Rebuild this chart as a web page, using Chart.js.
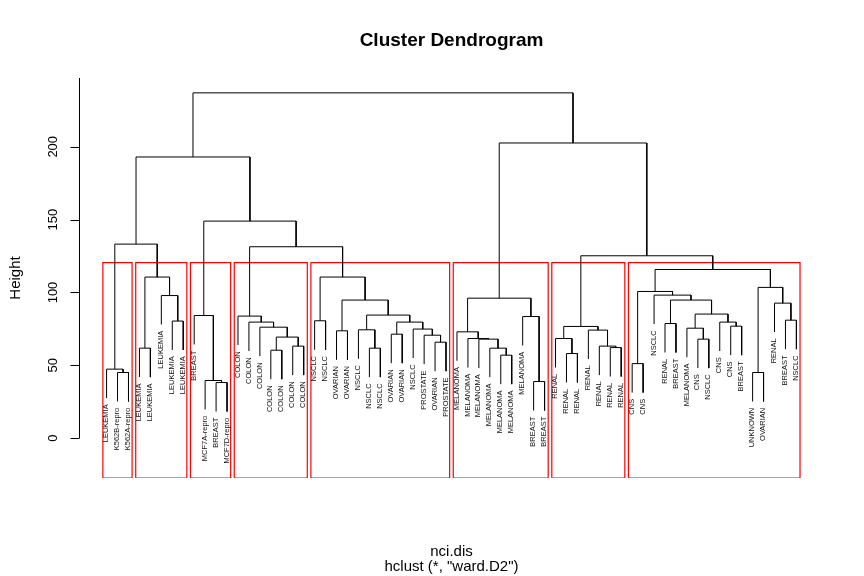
<!DOCTYPE html>
<html><head><meta charset="utf-8">
<script src="https://cdn.jsdelivr.net/npm/chart.js@4.4.1/dist/chart.umd.min.js"></script>
<style>html,body{margin:0;padding:0;background:#fff}#wrap{width:864px;height:576px;position:relative}</style>
</head><body><div id="wrap"><canvas id="c" width="864" height="576"></canvas></div>
<script>
// ---- data: leaves in dendrogram order ----
const leafLabels = ["LEUKEMIA","K562B-repro","K562A-repro","LEUKEMIA","LEUKEMIA","LEUKEMIA","LEUKEMIA","LEUKEMIA",
  "BREAST","MCF7A-repro","BREAST","MCF7D-repro",
  "COLON","COLON","COLON","COLON","COLON","COLON","COLON",
  "NSCLC","NSCLC","OVARIAN","OVARIAN","NSCLC","NSCLC","NSCLC","OVARIAN","OVARIAN","NSCLC","PROSTATE","OVARIAN","PROSTATE",
  "MELANOMA","MELANOMA","MELANOMA","MELANOMA","MELANOMA","MELANOMA","MELANOMA","BREAST","BREAST",
  "RENAL","RENAL","RENAL","RENAL","RENAL","RENAL","RENAL",
  "CNS","CNS","NSCLC","RENAL","BREAST","MELANOMA","CNS","NSCLC","CNS","CNS","BREAST","UNKNOWN","OVARIAN","RENAL","BREAST","NSCLC"];
// merges (R style): negative = leaf position, positive = earlier merge row
const mergeLeft  = [-2,-1,-4,-7,-6,3,2,-11,-10,-9,-16,-18,11,-15,-14,-13,-20,-22,-25,-24,-27,-31,-30,-29,21,20,18,17,16,10,7,
  -37,-36,-35,-34,-33,-40,-39,36,-43,-42,-47,-46,-45,41,-49,-52,-55,-54,-58,-57,49,47,-51,46,-60,-63,-62,56,55,45,39,31];
const mergeRight = [-3,1,-5,-8,4,5,6,-12,8,9,-17,-19,12,13,14,15,-21,-23,-26,19,-28,-32,22,23,24,25,26,27,28,29,30,
  -38,32,33,34,35,-41,37,38,-44,40,-48,42,43,44,-50,-53,-56,48,-59,50,51,52,53,54,-61,-64,57,58,59,60,61,62];
const mergeHeight = [45.1,47.4,61.8,80.4,97.9,110.6,133.2,38.2,39.6,84.2,60.4,63.2,69.4,76.2,79.7,83.8,80.6,73.7,61.8,74.4,71.4,65.9,70.7,74.9,79.7,84.5,94.8,110.6,131.4,149.0,193.0,
  57.0,61.8,68.0,68.4,73.0,38.9,83.5,96.1,58.1,68.4,62.2,63.2,74.2,76.7,51.2,78.7,68.0,75.5,76.9,79.7,85.2,94.8,98.2,100.7,45.1,81.0,92.7,103.5,115.8,125.2,202.6,237.0];
const yTickValues = [0,50,100,150,200];
const numClusters = 8;
const hangFraction = 0.1;

// ---- derived geometry (in data units) ----
const nLeaves = leafLabels.length;
const maxH = Math.max(...mergeHeight), minH = Math.min(...mergeHeight);
const hang = hangFraction * (maxH - minH);
const nodeX = [];
function childX(c){ return c < 0 ? -c : nodeX[c-1]; }
function childY(c, h){ return c < 0 ? h - hang : mergeHeight[c-1]; }
const leafBottom = new Array(nLeaves+1);
const datasets = [];
for (let i = 0; i < mergeHeight.length; i++) {
  const l = mergeLeft[i], r = mergeRight[i], h = mergeHeight[i];
  const xl = childX(l), xr = childX(r);
  nodeX[i] = (xl + xr) / 2;
  if (l < 0) leafBottom[-l] = h - hang;
  if (r < 0) leafBottom[-r] = h - hang;
  datasets.push({
    data: [{x:xl,y:childY(l,h)},{x:xl,y:h},{x:xr,y:h},{x:xr,y:childY(r,h)}],
    borderColor:'#000', borderWidth:1, pointRadius:0, showLine:true, fill:false, tension:0
  });
}
// clusters for rect.hclust
const sortedH = [...mergeHeight].sort((a,b)=>b-a);
const cutH = (sortedH[numClusters-2] + sortedH[numClusters-1]) / 2;
function leafRange(c){
  if (c < 0) return [-c,-c];
  const a = leafRange(mergeLeft[c-1]), b = leafRange(mergeRight[c-1]);
  return [Math.min(a[0],b[0]), Math.max(a[1],b[1])];
}
const clusters = [];
function cut(c){
  if (c > 0 && mergeHeight[c-1] > cutH) { cut(mergeLeft[c-1]); cut(mergeRight[c-1]); }
  else clusters.push(leafRange(c));
}
cut(mergeHeight.length);
const xMin = 1 - 0.04*(nLeaves-1), xMax = nLeaves + 0.04*(nLeaves-1);
const yMin = -27.3, yMax = 247.2;
clusters.forEach(([a,b]) => {
  const x0 = a - 0.34, x1 = b + 0.33;
  datasets.push({
    data:[{x:x0,y:yMin},{x:x0,y:cutH},{x:x1,y:cutH},{x:x1,y:yMin},{x:x0,y:yMin}],
    borderColor:'#FF0000', borderWidth:1.2, pointRadius:0, showLine:true, fill:false, tension:0
  });
});

const FONT = '"Liberation Sans", Arial, sans-serif';
const decor = {
  id:'decor',
  afterDatasetsDraw(chart){
    const ctx = chart.ctx, xs = chart.scales.x, ys = chart.scales.y, ca = chart.chartArea;
    ctx.save();
    // leaf labels
    const lf = 7.5;
    ctx.font = lf + 'px ' + FONT;
    ctx.fillStyle = '#111';
    const gap = ctx.measureText('m').width;
    for (let i = 1; i <= nLeaves; i++) {
      const px = xs.getPixelForValue(i), py = ys.getPixelForValue(leafBottom[i]);
      ctx.save(); ctx.translate(px, py + gap); ctx.rotate(-Math.PI/2);
      ctx.textAlign = 'right'; ctx.textBaseline = 'alphabetic';
      ctx.fillText(leafLabels[i-1], 0, 0.3*lf*0.72);
      ctx.restore();
    }
    // y axis
    const ax = Math.round(ca.left) + 0.5;
    ctx.strokeStyle = '#000'; ctx.lineWidth = 1;
    ctx.beginPath();
    ctx.moveTo(ax, ys.getPixelForValue(0)); ctx.lineTo(ax, ca.top);
    yTickValues.forEach(v => {
      const py = Math.round(ys.getPixelForValue(v)) + 0.5;
      ctx.moveTo(ax, py); ctx.lineTo(ax - 9, py);
    });
    ctx.stroke();
    ctx.fillStyle = '#000';
    ctx.font = '13px ' + FONT;
    yTickValues.forEach(v => {
      const py = ys.getPixelForValue(v);
      ctx.save(); ctx.translate(ax - 23, py); ctx.rotate(-Math.PI/2);
      ctx.textAlign = 'center'; ctx.textBaseline = 'alphabetic';
      ctx.fillText(String(v), 0, 0); ctx.restore();
    });
    const cx = (ca.left + ca.right) / 2, cy = (ca.top + ca.bottom) / 2;
    ctx.font = '15px ' + FONT;
    ctx.save(); ctx.translate(20, cy); ctx.rotate(-Math.PI/2);
    ctx.textAlign = 'center'; ctx.fillText('Height', 0, 0); ctx.restore();
    ctx.textAlign = 'center';
    ctx.fillText('nci.dis', cx, 556);
    ctx.fillText('hclust (*, "ward.D2")', cx, 570.5);
    ctx.font = 'bold 19px ' + FONT;
    ctx.fillText('Cluster Dendrogram', cx, 46);
    ctx.restore();
  }
};

new Chart(document.getElementById('c'), {
  type:'scatter',
  data:{datasets},
  options:{
    responsive:false, animation:false, devicePixelRatio:1,
    layout:{padding:{left:79, right:40, top:78, bottom:98}},
    scales:{
      x:{type:'linear', min:xMin, max:xMax, display:false},
      y:{type:'linear', min:yMin, max:yMax, display:false}
    },
    plugins:{legend:{display:false}, tooltip:{enabled:false}, title:{display:false}}
  },
  plugins:[decor]
});
</script></body></html>
